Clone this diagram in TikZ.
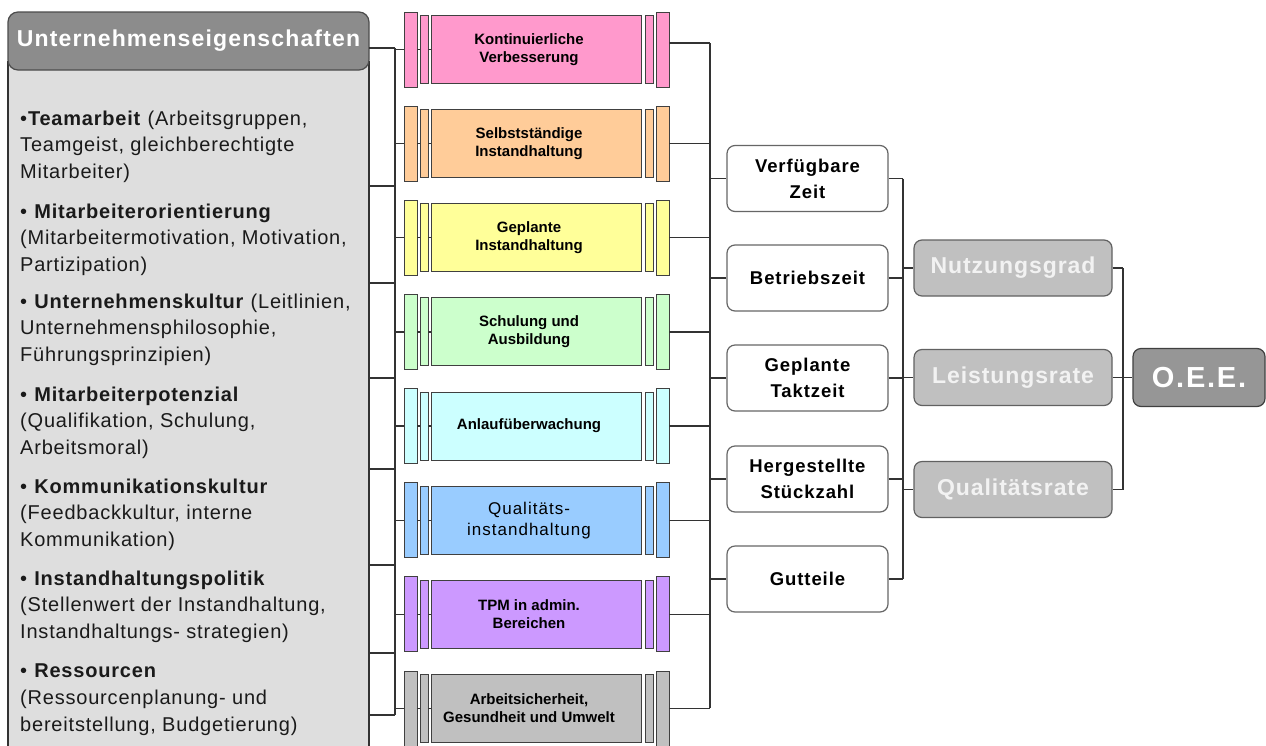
\documentclass[tikz,border=0pt]{standalone}
\usepackage{fontspec}
\setmainfont{Liberation Sans}
\newfontfamily\bodyf[LetterSpace=4]{Liberation Sans}
\newfontfamily\wboxf[LetterSpace=5]{Liberation Sans}
\newfontfamily\headf[LetterSpace=5]{Liberation Sans}
\newfontfamily\grayf[LetterSpace=4]{Liberation Sans}
\newfontfamily\oeef[LetterSpace=6]{Liberation Sans}
\newfontfamily\pilf{Liberation Sans}
\newfontfamily\qualf[LetterSpace=6]{Liberation Sans}
\definecolor{cpk}{HTML}{FF99CC}
\definecolor{cor}{HTML}{FFCC99}
\definecolor{cye}{HTML}{FFFF99}
\definecolor{cgr}{HTML}{CCFFCC}
\definecolor{ccy}{HTML}{CCFFFF}
\definecolor{cbl}{HTML}{99CCFF}
\definecolor{cpu}{HTML}{CC99FF}
\definecolor{cgy}{HTML}{C0C0C0}
\definecolor{bodygray}{HTML}{DEDEDE}
\definecolor{headgray}{HTML}{8C8C8C}
\definecolor{boxgray}{HTML}{C0C0C0}
\definecolor{oeegray}{HTML}{969696}
\definecolor{linec}{HTML}{333333}
\definecolor{txt}{HTML}{1A1A1A}
\begin{document}
\begin{tikzpicture}[x=1pt,y=-1pt,
  conn/.style={draw=linec, line width=1.2pt},
  barw/.style={draw=black!75, line width=0.9pt, inner sep=0pt, minimum width=13pt, minimum height=75pt},
  barn/.style={draw=black!75, line width=0.9pt, inner sep=0pt, minimum width=8pt, minimum height=68pt},
  pmain/.style={draw=black!75, line width=0.9pt, inner sep=0pt, minimum width=210pt, minimum height=68pt},
  ptext/.style={inner sep=0pt, align=center, text=black},
  pfont/.style={font=\pilf\bfseries\fontsize{15}{18}\selectfont},
  qfont/.style={font=\qualf\fontsize{17}{21}\selectfont},
  ltext/.style={anchor=base west, inner sep=0pt, text=txt, font=\bodyf\fontsize{20}{26}\selectfont},
  wbox/.style={draw=black!60, fill=white, line width=1.2pt, rounded corners=8pt, minimum width=161pt, minimum height=66pt, inner sep=0pt, align=center, text=black, font=\wboxf\bfseries\fontsize{18.5}{26}\selectfont},
  gbox/.style={draw=black!62, fill=boxgray, line width=1.2pt, rounded corners=8pt, minimum width=198pt, minimum height=56pt, inner sep=0pt, text=white!95!black, font=\grayf\bfseries\fontsize{23}{27}\selectfont}
]
\useasboundingbox[fill=white] (0,0) rectangle (1266,745);

% left box
\node[draw=linec, fill=bodygray, line width=1.2pt, minimum width=361pt, minimum height=720pt, inner sep=0pt] (left) at (188.5,422) {};
\node[draw=black!70, fill=headgray, line width=1.2pt, rounded corners=10pt, minimum width=361pt, minimum height=58pt, inner sep=0pt, text=white, font=\headf\bfseries\fontsize{23}{27}\selectfont] (head) at (188.5,41) {Unternehmenseigenschaften};

\foreach \n/\yy/\tx in {
  a/125/{•\textbf{Teamarbeit} (Arbeitsgruppen,},
  b/151.5/{Teamgeist, gleichberechtigte},
  c/178/{Mitarbeiter)},
  d/218/{• \textbf{Mitarbeiterorientierung}},
  e/244.5/{(Mitarbeitermotivation, Motivation,},
  f/271/{Partizipation)},
  g/308/{• \textbf{Unternehmenskultur} (Leitlinien,},
  h/334.5/{Unternehmensphilosophie,},
  i/361/{Führungsprinzipien)},
  j/401/{• \textbf{Mitarbeiterpotenzial}},
  k/427.5/{(Qualifikation, Schulung,},
  l/454/{Arbeitsmoral)},
  m/493/{• \textbf{Kommunikationskultur}},
  n/519.5/{(Feedbackkultur, interne},
  o/546/{Kommunikation)},
  p/585/{• \textbf{Instandhaltungspolitik}},
  q/611.5/{(Stellenwert der Instandhaltung,},
  r/638/{Instandhaltungs- strategien)},
  s/677/{• \textbf{Ressourcen}},
  t/704.5/{(Ressourcenplanung- und},
  u/731/{bereitstellung, Budgetierung)}}
  \node[ltext] (t\n) at (20,\yy) {\tx};

% pillars
\foreach \i/\c/\f/\tx in {
  0/cpk/pfont/{Kontinuierliche\\Verbesserung},
  1/cor/pfont/{Selbstständige\\Instandhaltung},
  2/cye/pfont/{Geplante\\Instandhaltung},
  3/cgr/pfont/{Schulung und\\Ausbildung},
  4/ccy/pfont/{Anlaufüberwachung},
  5/cbl/qfont/{Qualitäts-\\instandhaltung},
  6/cpu/pfont/{TPM in admin.\\Bereichen},
  7/cgy/pfont/{Arbeitsicherheit,\\Gesundheit und Umwelt}}{
  \pgfmathsetmacro\yc{49.5+94.14*\i}
  \node[barw, fill=\c] (pa\i) at (410.5,\yc) {};
  \node[barn, fill=\c] (pb\i) at (424,\yc) {};
  \node[pmain, fill=\c] (p\i) at (536,\yc) {};
  \node[ptext, \f] (pt\i) at (529,\yc) {\tx};
  \node[barn, fill=\c] (pc\i) at (649,\yc) {};
  \node[barw, fill=\c] (pd\i) at (662.5,\yc) {};
  \draw[conn] (pa\i.east) -- (pb\i.west);
  \draw[conn] (pb\i.east) -- (p\i.west);
}

% white boxes
\node[wbox] (w1) at (807.5,178.5) {Verfügbare\\Zeit};
\node[wbox] (w2) at (807.5,278) {Betriebszeit};
\node[wbox] (w3) at (807.5,378) {Geplante\\Taktzeit};
\node[wbox] (w4) at (807.5,479) {Hergestellte\\Stückzahl};
\node[wbox] (w5) at (807.5,579) {Gutteile};

% gray boxes
\node[gbox] (g1) at (1013,268) {Nutzungsgrad};
\node[gbox] (g2) at (1013,377.5) {Leistungsrate};
\node[gbox] (g3) at (1013,489.5) {Qualitätsrate};

\node[draw=black!75, fill=oeegray, line width=1.2pt, rounded corners=8pt, minimum width=132pt, minimum height=58pt, inner sep=0pt, text=white, font=\oeef\bfseries\fontsize{29}{33}\selectfont] (oee) at (1199,377.5) {O.E.E.};

% bus coordinates
\coordinate (busA) at (395,48);
\coordinate (busAend) at (395,715);
\coordinate (busB) at (710,0);
\coordinate (busC) at (903,0);
\coordinate (busD) at (1123,0);
\coordinate (pr0) at ([yshift=6.5pt]pd0.east);

% left box to bus A
\foreach \j/\yy in {0/48,1/186,2/283,3/378,4/469,5/565,6/653,7/715}{
  \coordinate (L\j) at (369,\yy);
  \draw[conn] (L\j) -- (L\j -| busA);
}
\draw[conn] (busA) -- (busAend);
\foreach \i in {0,...,7}{
  \draw[conn] (pa\i.west -| busA) -- (pa\i.west);
}
\draw[conn] (pr0) -- (pr0 -| busB);
\foreach \i in {1,...,7}{
  \draw[conn] (pd\i.east) -- (pd\i.east -| busB);
}
\draw[conn] (pr0 -| busB) -- (pd7.east -| busB);
\foreach \j in {1,...,5}{
  \draw[conn] (w\j.west -| busB) -- (w\j.west);
  \draw[conn] (w\j.east) -- (w\j.east -| busC);
}
\draw[conn] (w1.east -| busC) -- (w5.east -| busC);
\foreach \j in {1,2,3}{
  \draw[conn] (g\j.west -| busC) -- (g\j.west);
  \draw[conn] (g\j.east) -- (g\j.east -| busD);
}
\draw[conn] (g1.east -| busD) -- (g3.east -| busD);
\draw[conn] (oee.west -| busD) -- (oee.west);
\end{tikzpicture}
\end{document}
